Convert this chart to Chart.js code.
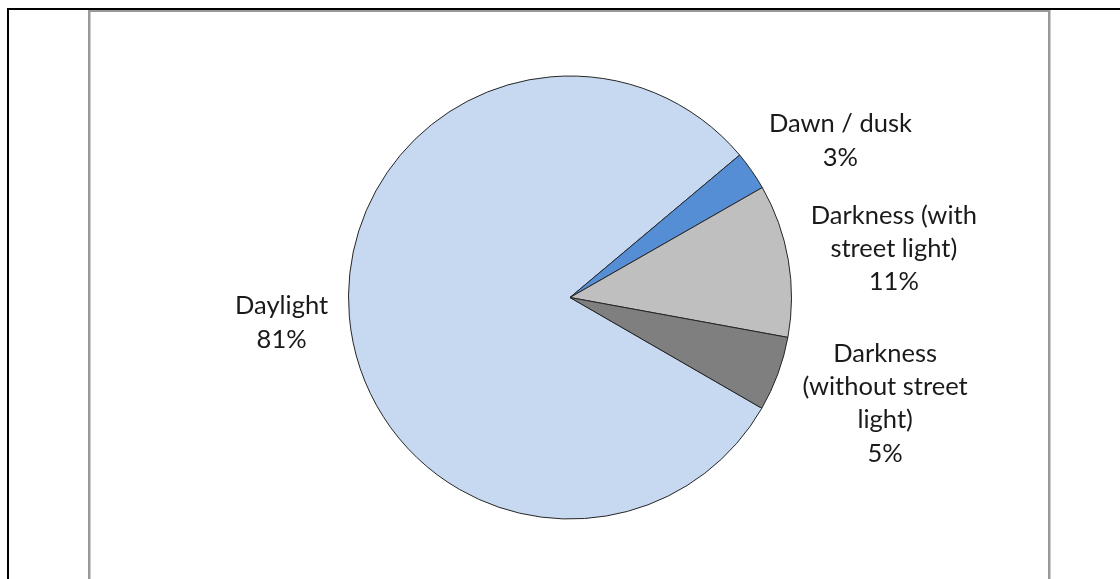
<!DOCTYPE html>
<html>
<head>
<meta charset="utf-8">
<script src="https://cdn.jsdelivr.net/npm/chart.js@4.4.1/dist/chart.umd.min.js"></script>
<style>
  html, body { margin: 0; padding: 0; background: #ffffff; }
  #wrap { position: relative; width: 1120px; height: 579px; overflow: hidden; }
  canvas { display: block; }
</style>
</head>
<body>
<div id="wrap"><canvas id="c" width="1120" height="579"></canvas></div>
<script>
// ---- data ----
const categories = [
  ['Daylight'],
  ['Dawn / dusk'],
  ['Darkness (with', 'street light)'],
  ['Darkness', '(without street', 'light)']
];
const shares = [80.55, 2.85, 11.15, 5.45];
const sliceColors = ['#C6D9F1', '#558ED5', '#BFBFBF', '#7F7F7F'];

// label placement (polar tweak relative to each slice's mid angle)
const labelAngleAdjust = [0, 4.8, 1.1, -1.6];   // degrees
const labelRadialGap = [68, 91, 106, 111];      // px beyond rim

const framePlugin = {
  id: 'frame',
  beforeDraw(chart) {
    const ctx = chart.ctx;
    ctx.save();
    ctx.fillStyle = '#ffffff';
    ctx.fillRect(0, 0, chart.width, chart.height);
    // outer black frame
    ctx.fillStyle = '#000000';
    ctx.fillRect(7, 8, chart.width - 7, 2);
    ctx.fillRect(7, 8, 2, chart.height - 8);
    // inner gray frame
    ctx.fillStyle = '#999999';
    ctx.fillRect(88, 10, 962, 2);
    ctx.fillRect(88, 10, 2.5, chart.height - 10);
    ctx.fillRect(1048, 10, 2.5, chart.height - 10);
    ctx.restore();
  }
};

const labelPlugin = {
  id: 'sliceLabels',
  afterDatasetsDraw(chart) {
    const ctx = chart.ctx;
    const meta = chart.getDatasetMeta(0);
    const data = chart.data.datasets[0].data;
    const total = data.reduce((a, b) => a + b, 0);
    ctx.save();
    ctx.font = '25.5px Lato, "Open Sans", sans-serif';
    ctx.fillStyle = '#1a1a1a';
    ctx.textAlign = 'center';
    ctx.textBaseline = 'middle';
    const lineH = 33.3;
    meta.data.forEach((arc, i) => {
      const p = arc.getProps(['x', 'y', 'startAngle', 'endAngle', 'outerRadius'], true);
      const mid = (p.startAngle + p.endAngle) / 2 + labelAngleAdjust[i] * Math.PI / 180;
      const dist = p.outerRadius + labelRadialGap[i];
      const cx = p.x + Math.cos(mid) * dist;
      const cy = p.y + Math.sin(mid) * dist;
      const lines = categories[i].concat([Math.round(data[i] / total * 100) + '%']);
      const y0 = cy - (lines.length - 1) * lineH / 2;
      lines.forEach((t, k) => ctx.fillText(t, cx, y0 + k * lineH));
    });
    ctx.restore();
  }
};

new Chart(document.getElementById('c'), {
  type: 'pie',
  data: {
    labels: categories.map(c => c.join(' ')),
    datasets: [{
      data: shares,
      backgroundColor: sliceColors,
      borderColor: '#262626',
      borderWidth: 1,
      hoverOffset: 0,
      offset: 0
    }]
  },
  options: {
    responsive: false,
    animation: false,
    events: [],
    rotation: 120,
    layout: { padding: { top: 75, bottom: 59, left: 348, right: 328 } },
    plugins: { legend: { display: false }, tooltip: { enabled: false } }
  },
  plugins: [framePlugin, labelPlugin]
});
</script>
</body>
</html>
